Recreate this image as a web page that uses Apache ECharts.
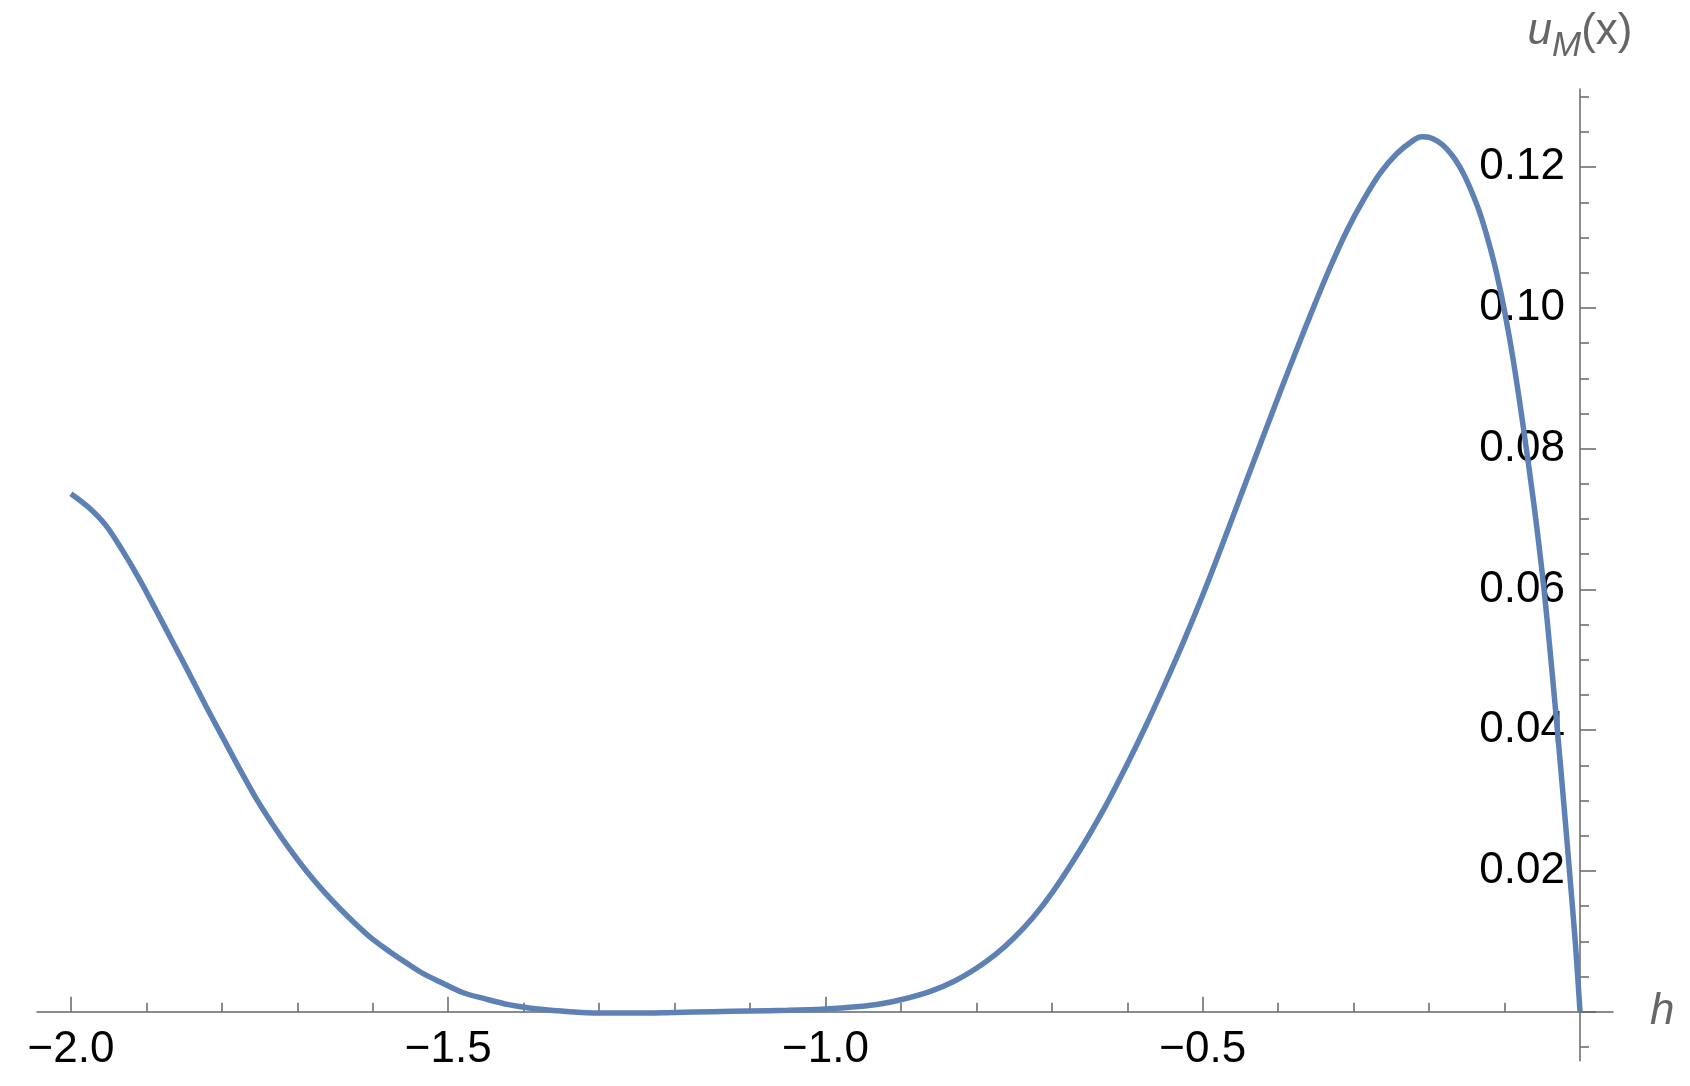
<!DOCTYPE html>
<html>
<head>
<meta charset="utf-8">
<script src="https://cdn.jsdelivr.net/npm/echarts@6/dist/echarts.min.js"></script>
<style>
html,body{margin:0;padding:0;background:#fff;}
#chart{width:1690px;height:1086px;}
</style>
</head>
<body>
<div id="chart"></div>
<script>
// Curve samples
const xs = [-2.000,-1.976,-1.953,-1.931,-1.909,-1.887,-1.865,-1.843,-1.821,-1.798,-1.776,-1.754,-1.732,-1.710,-1.688,-1.665,-1.643,-1.621,-1.599,-1.577,-1.555,-1.533,-1.510,-1.480,-1.450,-1.420,-1.390,-1.350,-1.300,-1.250,-1.200,-1.150,-1.100,-1.050,-1.000,-0.960,-0.928,-0.900,-0.861,-0.830,-0.801,-0.775,-0.751,-0.725,-0.699,-0.663,-0.630,-0.600,-0.575,-0.552,-0.525,-0.500,-0.475,-0.450,-0.4197,-0.3976,-0.3755,-0.3535,-0.3314,-0.3093,-0.2872,-0.2651,-0.2430,-0.2209,-0.2098,-0.1988,-0.1877,-0.1767,-0.1656,-0.1546,-0.1436,-0.1325,-0.1215,-0.1105,-0.0994,-0.0884,-0.0751,-0.062,-0.055,-0.0477,-0.039,-0.030,-0.022,-0.014,-0.006,0.000];
const ys = [0.0736,0.0716,0.0690,0.0654,0.0614,0.0570,0.0525,0.0480,0.0434,0.0388,0.0344,0.0302,0.0265,0.0231,0.0200,0.0171,0.0146,0.0123,0.0102,0.0085,0.0069,0.0054,0.0042,0.0027,0.0018,0.0010,0.0005,0.0001,-0.0002,-0.0002,-0.0001,0.0000,0.0001,0.0002,0.0004,0.0007,0.0011,0.0017,0.0029,0.0043,0.0061,0.0081,0.0104,0.0134,0.0170,0.0229,0.0290,0.0352,0.0407,0.0461,0.0527,0.0592,0.0661,0.0732,0.0818,0.0880,0.0941,0.1000,0.1057,0.1109,0.1153,0.1191,0.1219,0.1238,0.1243,0.1242,0.1236,0.1226,0.1211,0.1191,0.1165,0.1134,0.1095,0.1049,0.0992,0.0925,0.0830,0.0728,0.0668,0.0600,0.0505,0.0400,0.0302,0.0200,0.0095,0.0000];

// Tick values
const xMajorTicks = [-2.0, -1.5, -1.0, -0.5];
const xMinorTicks = [-2.0,-1.9,-1.8,-1.7,-1.6,-1.5,-1.4,-1.3,-1.2,-1.1,-1.0,-0.9,-0.8,-0.7,-0.6,-0.5,-0.4,-0.3,-0.2,-0.1];
const yMajorTicks = [0.02, 0.04, 0.06, 0.08, 0.10, 0.12];
const yMajorTickMarks = [0, 0.02, 0.04, 0.06, 0.08, 0.10, 0.12];
const yMinorTicks = [-0.005,0,0.005,0.01,0.015,0.02,0.025,0.03,0.035,0.04,0.045,0.05,0.055,0.06,0.065,0.07,0.075,0.08,0.085,0.09,0.095,0.1,0.105,0.11,0.115,0.12,0.125,0.13];

const X_MIN = -2.045, X_MAX = 0.0437;
const Y_MIN = -0.00696, Y_MAX = 0.1311;

const axisColor = '#666666';
const font = '"Liberation Sans", Arial, sans-serif';

const data = xs.map((x, i) => [x, ys[i]]);

const chart = echarts.init(document.getElementById('chart'), null, {renderer: 'canvas'});

function fmtX(v) {
  const s = Math.abs(v).toFixed(1);
  return v < 0 ? '\u2212' + s : s;
}

const tickStyle = {color: axisColor, width: 1.5};

const option = {
  animation: false,
  backgroundColor: '#ffffff',
  grid: [
    // full extent of the axis lines
    {left: 37, right: 77, top: 89, bottom: 25.3, containLabel: false, outerBoundsMode: 'none'},
    // region bounded by the axes' zero lines, used to place tick labels
    {left: 37, right: 110, top: 89, bottom: 74.3, containLabel: false, outerBoundsMode: 'none'}
  ],
  xAxis: [
    {
      gridIndex: 0, type: 'value', min: X_MIN, max: X_MAX, position: 'bottom',
      axisLine: {show: true, onZero: true, onZeroAxisIndex: 0, lineStyle: {color: axisColor, width: 1.5}},
      axisTick: {show: true, inside: true, length: 15, customValues: xMajorTicks, lineStyle: tickStyle},
      axisLabel: {show: false},
      splitLine: {show: false},
      name: 'h', nameLocation: 'end', nameGap: 37,
      nameTextStyle: {fontSize: 44, fontStyle: 'italic', color: axisColor, fontFamily: font, verticalAlign: 'middle', align: 'left'}
    },
    {
      gridIndex: 0, type: 'value', min: X_MIN, max: X_MAX, position: 'bottom',
      axisLine: {show: false, onZero: true, onZeroAxisIndex: 0},
      axisTick: {show: true, inside: true, length: 9, customValues: xMinorTicks, lineStyle: tickStyle},
      axisLabel: {show: false},
      splitLine: {show: false}
    },
    {
      gridIndex: 1, type: 'value', min: X_MIN, max: 0, position: 'bottom',
      axisLine: {show: false, onZero: false},
      axisTick: {show: false},
      axisLabel: {show: true, customValues: xMajorTicks, formatter: fmtX, margin: 16, fontSize: 44, color: '#000', fontFamily: font},
      splitLine: {show: false}
    }
  ],
  yAxis: [
    {
      gridIndex: 0, type: 'value', min: Y_MIN, max: Y_MAX, position: 'left',
      axisLine: {show: true, onZero: true, onZeroAxisIndex: 0, lineStyle: {color: axisColor, width: 1.5}},
      axisTick: {show: true, inside: true, length: 16, customValues: yMajorTickMarks, lineStyle: tickStyle},
      axisLabel: {show: false},
      splitLine: {show: false},
      name: '{u|u}{m|M}{p|(x)}', nameLocation: 'end', nameGap: 7,
      nameTextStyle: {
        color: axisColor, fontFamily: font, fontSize: 44, align: 'center', verticalAlign: 'bottom',
        rich: {
          u: {fontSize: 44, fontStyle: 'italic', color: axisColor, fontFamily: font, lineHeight: 44, verticalAlign: 'top'},
          m: {fontSize: 35, fontStyle: 'italic', color: axisColor, fontFamily: font, lineHeight: 72, verticalAlign: 'middle'},
          p: {fontSize: 44, color: axisColor, fontFamily: font, lineHeight: 44, verticalAlign: 'top'}
        }
      }
    },
    {
      gridIndex: 0, type: 'value', min: Y_MIN, max: Y_MAX, position: 'left',
      axisLine: {show: false, onZero: true, onZeroAxisIndex: 0},
      axisTick: {show: true, inside: true, length: 9, customValues: yMinorTicks, lineStyle: tickStyle},
      axisLabel: {show: false},
      splitLine: {show: false}
    },
    {
      gridIndex: 1, type: 'value', min: 0, max: Y_MAX, position: 'right',
      axisLine: {show: false, onZero: false},
      axisTick: {show: false},
      axisLabel: {show: true, inside: true, customValues: yMajorTicks, formatter: v => v.toFixed(2), margin: 15, fontSize: 44, color: '#000', fontFamily: font},
      splitLine: {show: false}
    }
  ],
  series: [{
    type: 'line',
    xAxisIndex: 0, yAxisIndex: 0,
    data: data,
    showSymbol: false,
    smooth: 0.3,
    lineStyle: {color: '#5E81B5', width: 5.5},
    z: 5
  }]
};
chart.setOption(option);
</script>
</body>
</html>
